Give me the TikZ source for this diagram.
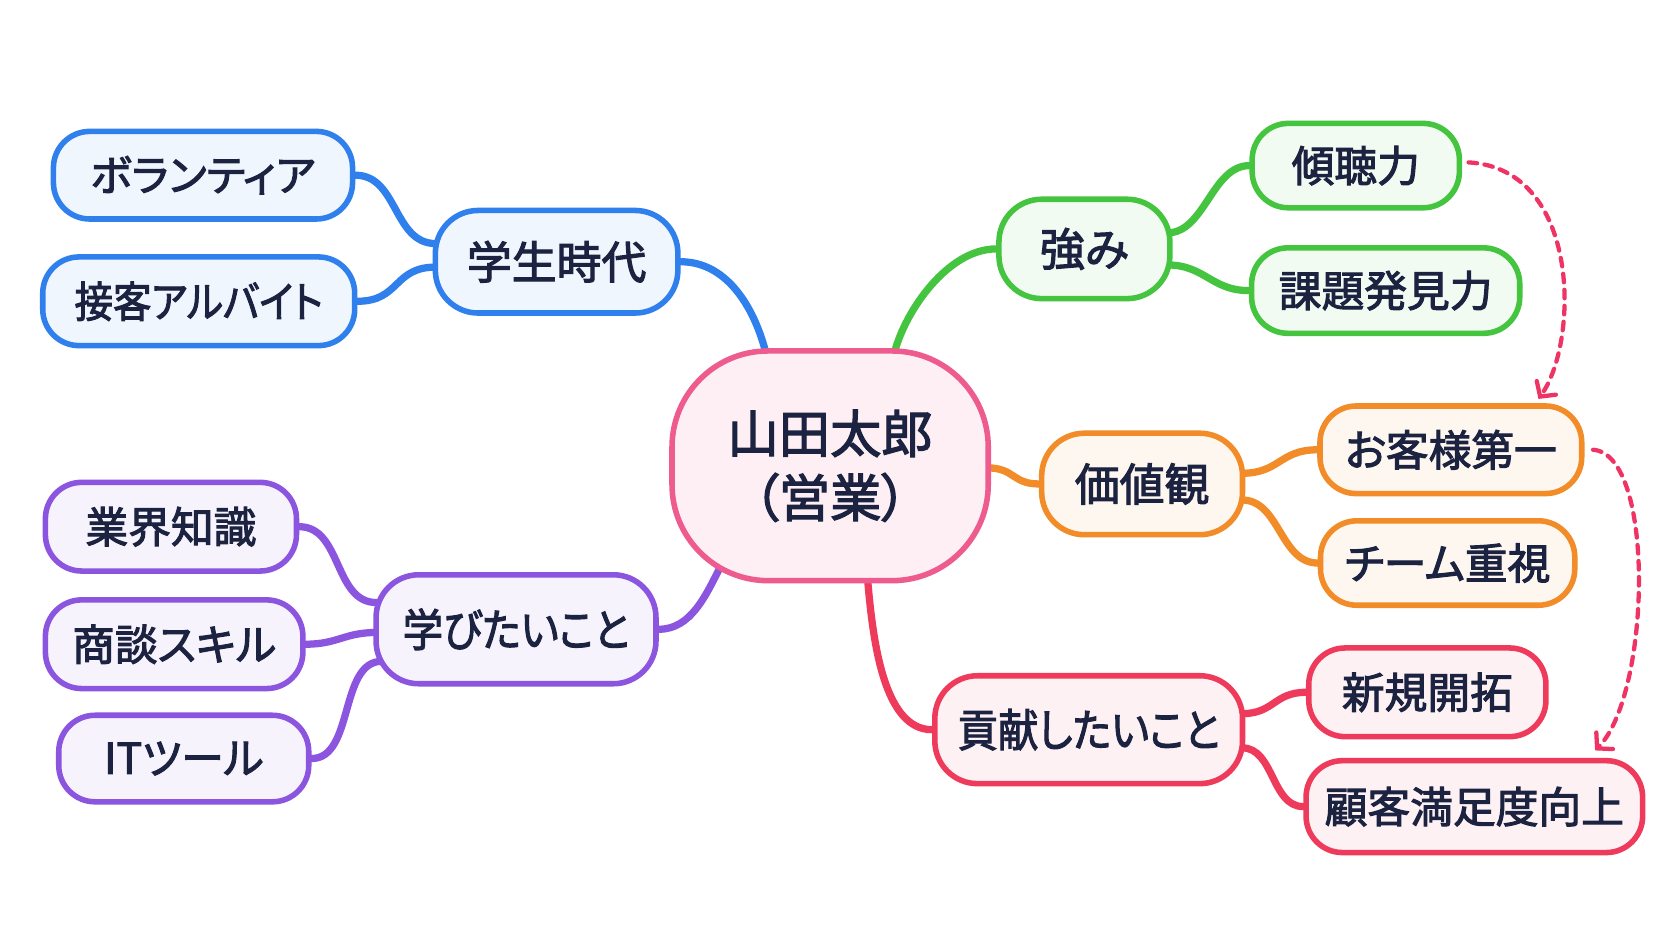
\documentclass[tikz,border=0pt]{standalone}
\usepackage{fontspec}
\setmainfont{Noto Sans CJK JP}[RawFeature=+palt, BoldFont={*}, BoldFeatures={FakeBold=2.4}]
\usetikzlibrary{arrows.meta,backgrounds,calc}
\definecolor{ink}{HTML}{1B2340}
\definecolor{cblue}{HTML}{2F80ED}
\definecolor{cgreen}{HTML}{45C43F}
\definecolor{corange}{HTML}{F28C28}
\definecolor{cred}{HTML}{EE3B5B}
\definecolor{cpurple}{HTML}{8B55E0}
\definecolor{cpink}{HTML}{EE5C8F}
\definecolor{cdash}{HTML}{EF3465}
\newcommand{\narrow}[1]{\scalebox{0.9}[1]{#1}}
\begin{document}
\begin{tikzpicture}[x=0.5pt,y=-0.5pt,
  box/.style 2 args={rectangle, draw=#1, fill=#1!7, line width=2.6pt, text=ink, inner sep=0pt, align=center, rounded corners=#2},
  leaf/.style={box={#1}{17pt}, font=\bfseries\fontsize{20pt}{22pt}\selectfont},
  branch/.style={box={#1}{20pt}, font=\bfseries\fontsize{21pt}{24pt}\selectfont},
  sz/.style 2 args={minimum width=#1*0.5pt, minimum height=#2*0.5pt},
  link/.style={draw=#1, line width=3.4pt, line cap=round},
  hint/.style={draw=cdash, line width=2pt, line cap=round, dash pattern=on 4pt off 3.5pt, -{Straight Barb[length=5pt,width=11pt,line cap=round]}},
]
\useasboundingbox (0,0) rectangle (1565,881);

% root
\node[box={cpink}{45pt}, fill=cpink!10, sz={296}{215}, font=\bfseries\fontsize{24pt}{30pt}\selectfont] (root) at (777,436) {山田太郎\\（営業）};

% blue
\node[branch=cblue, sz={227}{96}] (gakusei) at (521,245) {学生時代};
\node[leaf=cblue, sz={280}{82}] (vol) at (190,164) {ボランティア};
\node[leaf=cblue, sz={292}{83}] (arb) at (186,282) {\narrow{接客アルバイト}};

% green
\node[branch=cgreen, sz={160}{93}] (tsuyomi) at (1015,233) {強み};
\node[leaf=cgreen, sz={194}{79}] (keicho) at (1269,155) {傾聴力};
\node[leaf=cgreen, sz={251}{80}] (kadai) at (1297,272) {課題発見力};

% orange
\node[branch=corange, sz={188}{95}] (kachi) at (1069,453) {価値観};
\node[leaf=corange, sz={245}{82}] (okyaku) at (1358,421) {お客様第一};
\node[leaf=corange, sz={238}{79}] (team) at (1355,527) {チーム重視};

% red
\node[branch=cred, sz={288}{101}] (koken) at (1019,683) {\narrow{貢献したいこと}};
\node[leaf=cred, sz={222}{83}] (shinki) at (1336,648) {新規開拓};
\node[leaf=cred, sz={315}{86}] (kokyaku) at (1380,755) {顧客満足度向上};

% purple
\node[branch=cpurple, sz={262}{102}] (manabi) at (483,589) {\narrow{学びたいこと}};
\node[leaf=cpurple, sz={235}{83}] (gyokai) at (160,493) {業界知識};
\node[leaf=cpurple, sz={241}{83}] (shodan) at (163,603) {商談スキル};
\node[leaf=cpurple, sz={234}{81}] (it) at (172,710) {ITツール};

\begin{scope}[on background layer]
\fill[white] (0,0) rectangle (1565,881);
\draw[link=cblue] (gakusei.east) .. controls +(45,0) and +(-10,-40) .. ($(root.north)+(-60,5)$);
\draw[link=cblue] ($(gakusei.west)+(3,-17)$) .. controls +(-40,0) and +(40,0) .. (vol.east);
\draw[link=cblue] ($(gakusei.west)+(3,5)$) .. controls +(-40,0) and +(40,0) .. (arb.east);
\draw[link=cgreen] ($(root.north)+(60,5)$) .. controls +(10,-40) and +(-45,0) .. (tsuyomi.west);
\draw[link=cgreen] ($(tsuyomi.east)+(-5,-15)$) .. controls +(35,0) and +(-35,0) .. (keicho.west);
\draw[link=cgreen] ($(tsuyomi.east)+(-5,15)$) .. controls +(35,0) and +(-35,0) .. (kadai.west);
\draw[link=corange] ($(root.east)+(-3,2)$) .. controls +(25,0) and +(-25,0) .. (kachi.west);
\draw[link=corange] ($(kachi.east)+(-3,-10)$) .. controls +(35,0) and +(-35,0) .. (okyaku.west);
\draw[link=corange] ($(kachi.east)+(-3,15)$) .. controls +(35,0) and +(-35,0) .. (team.west);
\draw[link=cred] ($(root.south)+(35,-5)$) .. controls +(5,60) and +(-45,0) .. (koken.west);
\draw[link=cred] ($(koken.east)+(-3,-15)$) .. controls +(30,0) and +(-30,0) .. (shinki.west);
\draw[link=cred] ($(koken.east)+(-3,17)$) .. controls +(30,0) and +(-30,0) .. (kokyaku.west);
\draw[link=cpurple] ($(root.south west)+(49,-18)$) .. controls +(-15,30) and +(30,0) .. (manabi.east);
\draw[link=cpurple] ($(manabi.west)+(3,-25)$) .. controls +(-40,0) and +(40,0) .. (gyokai.east);
\draw[link=cpurple] ($(manabi.west)+(3,3)$) .. controls +(-30,0) and +(30,0) .. (shodan.east);
\draw[link=cpurple] ($(manabi.west)+(8,30)$) .. controls +(-40,0) and +(40,0) .. (it.east);
\end{scope}

\draw[hint] ($(keicho.east)+(6,-3)$) .. controls (1480,158) and (1478,320) .. ($(okyaku.north)+(82,-4)$);
\draw[hint] ($(okyaku.east)+(8,0)$) .. controls (1550,425) and (1545,650) .. ($(kokyaku.north)+(113,-7)$);
\end{tikzpicture}
\end{document}
